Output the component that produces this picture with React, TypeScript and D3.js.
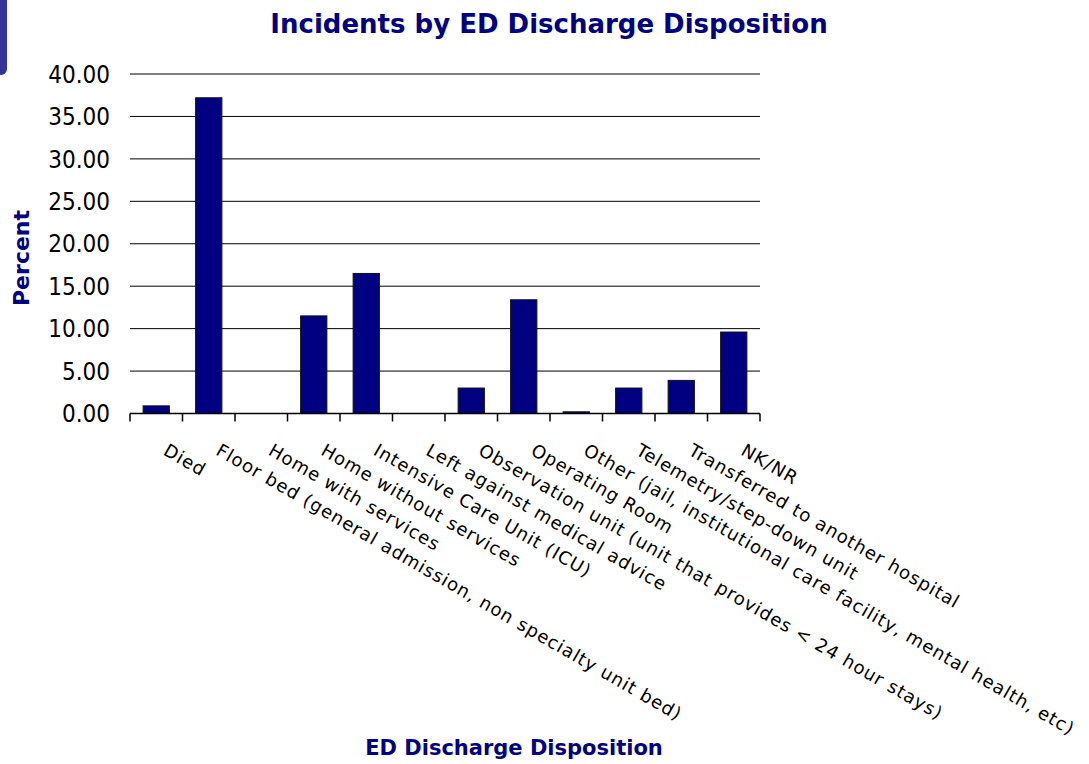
import React from "react";
import * as d3 from "d3";

const categories = [
  "Died",
  "Floor bed (general admission, non specialty unit bed)",
  "Home with services",
  "Home without services",
  "Intensive Care Unit (ICU)",
  "Left against medical advice",
  "Observation unit (unit that provides < 24 hour stays)",
  "Operating Room",
  "Other (jail, institutional care facility, mental health, etc)",
  "Telemetry/step-down unit",
  "Transferred to another hospital",
  "NK/NR",
];
const percents = [0.9, 37.2, 0, 11.5, 16.5, 0, 3.0, 13.4, 0.2, 3.0, 3.9, 9.6];
const yTicks = [0, 5, 10, 15, 20, 25, 30, 35, 40];

const W = 1089;
const H = 764;
const left = 130;
const right = 760;
const top = 74;
const bottom = 413.5;
const navy = "#000080";
const condensed = "'DejaVu Sans Condensed', 'DejaVu Sans', sans-serif";
const wide = "'DejaVu Sans', Verdana, sans-serif";

export default function App() {
  const x = d3.scaleBand<string>().domain(categories).range([left, right]).paddingInner(0.5).paddingOuter(0.25);
  const y = d3.scaleLinear().domain([0, 40]).range([bottom, top]);
  const step = x.step();
  const boundaries = d3.range(categories.length + 1).map((i) => left + i * step);

  return (
    <svg width={W} height={H} style={{ position: "absolute", left: 0, top: 0, background: "#fff" }}>
      <rect x={-12} y={-12} width={19} height={87} rx={6} fill="#333399" />
      <text x={549} y={33} textAnchor="middle" fontFamily={wide} fontWeight="bold" fontSize={26} fill={navy}>
        Incidents by ED Discharge Disposition
      </text>
      {yTicks.map((t) => (
        <g key={t}>
          {t > 0 && <line x1={left} x2={right} y1={y(t)} y2={y(t)} stroke="#000" strokeWidth={1} />}
          <text x={110} y={y(t)} dy="0.36em" textAnchor="end" fontFamily={condensed} fontSize={24} fill="#000">
            {t.toFixed(2)}
          </text>
        </g>
      ))}
      {categories.map((c, i) => (
        <rect
          key={c}
          x={x(c)}
          y={y(percents[i])}
          width={x.bandwidth()}
          height={bottom - y(percents[i])}
          fill={navy}
          stroke="#111"
          strokeWidth={1}
        />
      ))}
      <line x1={left} x2={right} y1={bottom} y2={bottom} stroke="#000" strokeWidth={1.5} />
      {boundaries.map((b, i) => (
        <line key={i} x1={b} x2={b} y1={bottom} y2={bottom + 8} stroke="#000" strokeWidth={1.5} />
      ))}
      {categories.map((c) => {
        const cx = (x(c) as number) + x.bandwidth() / 2 + 6;
        const cy = 454;
        return (
          <text
            key={c}
            x={cx}
            y={cy}
            transform={`rotate(30 ${cx} ${cy})`}
            fontFamily={wide}
            fontSize={18}
            letterSpacing={1}
            fill="#000"
          >
            {c}
          </text>
        );
      })}
      <text
        x={0}
        y={0}
        transform={`translate(29 258) rotate(-90)`}
        textAnchor="middle"
        fontFamily={wide}
        fontWeight="bold"
        fontSize={22}
        fill={navy}
      >
        Percent
      </text>
      <text x={514} y={755} textAnchor="middle" fontFamily={wide} fontWeight="bold" fontSize={21} fill={navy}>
        ED Discharge Disposition
      </text>
    </svg>
  );
}
